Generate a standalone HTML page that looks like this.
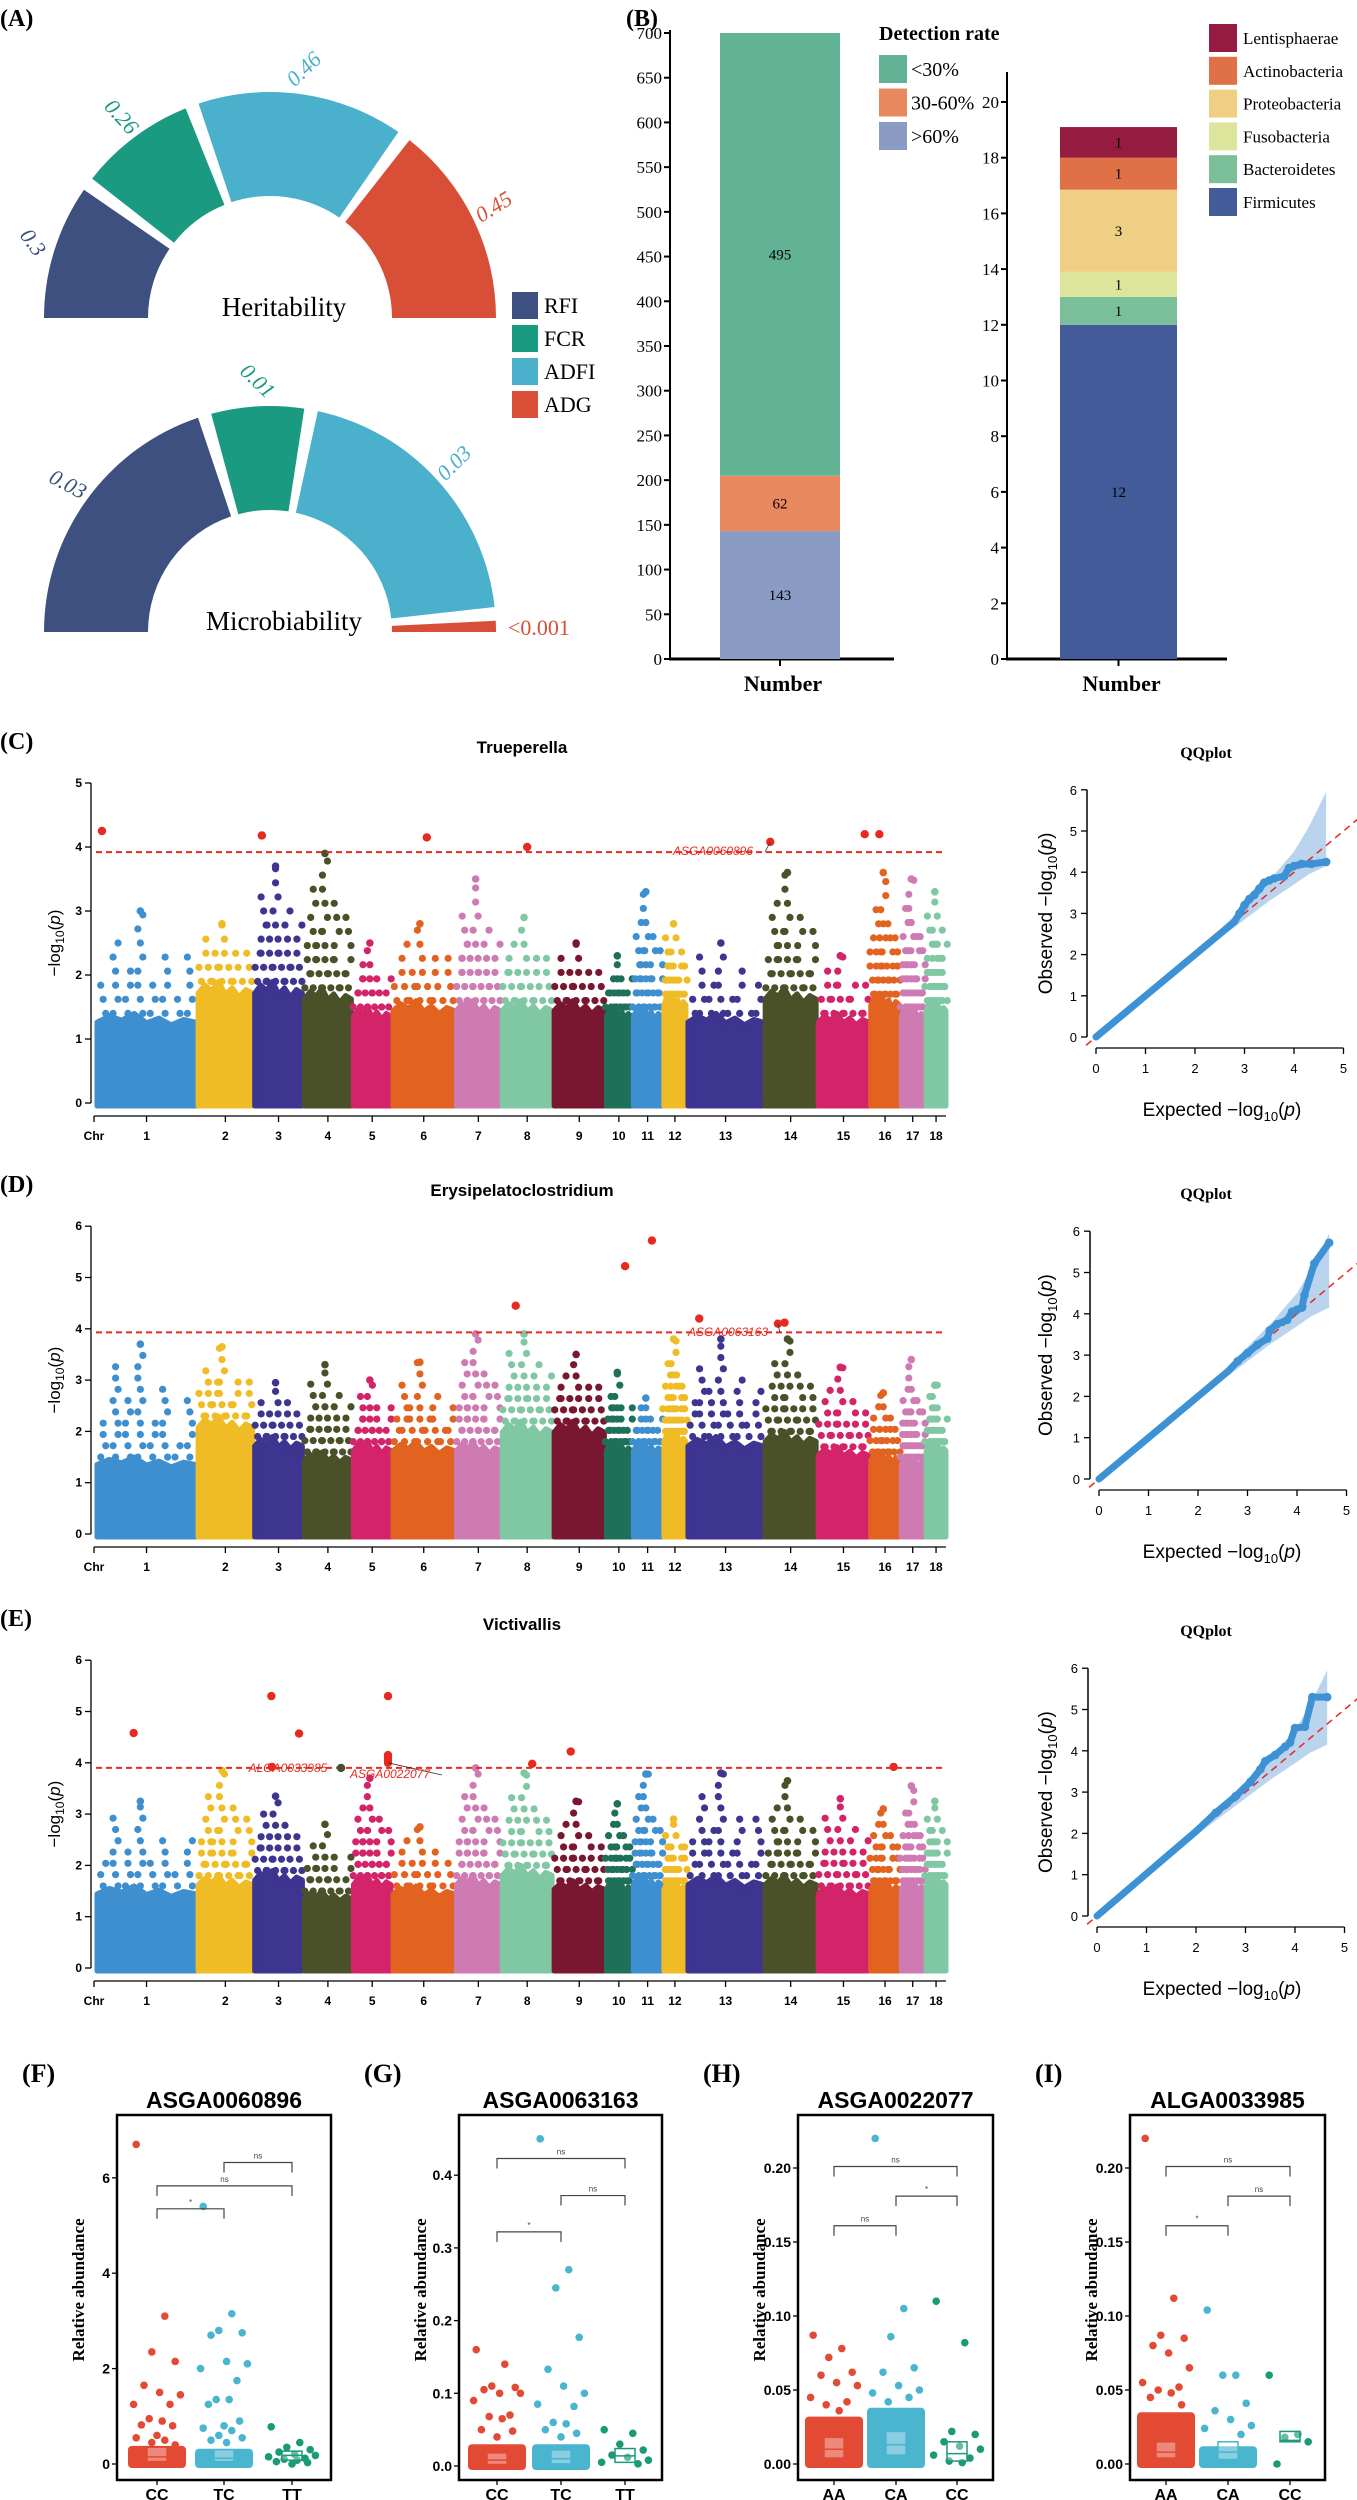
<!DOCTYPE html>
<html><head><meta charset="utf-8"><style>
html,body{margin:0;padding:0;background:#fff}
svg{display:block}
text{font-family:"Liberation Serif",serif}
.sans{font-family:"Liberation Sans",sans-serif}
</style></head><body>
<svg id="fig" xmlns="http://www.w3.org/2000/svg" width="1357" height="2500" viewBox="0 0 1357 2500"></svg>
<script>
// ---------- DATA ----------
// Panel A
const traits = ["RFI","FCR","ADFI","ADG"];
const heritability = [0.3,0.26,0.46,0.45];
const heritLabels = ["0.3","0.26","0.46","0.45"];
const microbiability = [0.03,0.01,0.03,0.0012];
const microLabels = ["0.03","0.01","0.03","<0.001"];
// Panel B
const detectCats = [">60%","30-60%","<30%"];
const detectVals = [143,62,495];
const detectTicks = [0,50,100,150,200,250,300,350,400,450,500,550,600,650,700];
const phyla = ["Firmicutes","Bacteroidetes","Fusobacteria","Proteobacteria","Actinobacteria","Lentisphaerae"];
const phylaVals = [12,1,0.9,2.95,1.15,1.1];
const phylaLabels = ["12","1","1","3","1","1"];
const phylaTicks = [0,2,4,6,8,10,12,14,16,18,20];
// Manhattan
const chrNames = ["1","2","3","4","5","6","7","8","9","10","11","12","13","14","15","16","17","18"];
const chrLen = [274,151,132,130,104,170,121,138,139,69,79,61,208,141,140,79,63,55];
const cDense = [1.4,1.9,1.9,1.8,1.5,1.6,1.6,1.6,1.6,1.5,1.5,1.7,1.4,1.8,1.4,1.7,1.5,1.6];
const cMax = [3.0,2.8,3.7,3.9,2.5,2.8,3.5,2.9,2.5,2.3,3.3,2.8,2.5,3.6,2.3,3.6,3.5,3.3];
const cHitChr = [1,3,6,8,14,15,16];
const cHitPos = [0.05,0.15,0.55,0.5,0.1,0.92,0.3];
const cHitVal = [4.25,4.18,4.15,4.0,4.08,4.2,4.2];
const dDense = [1.5,2.3,1.9,1.6,1.8,1.8,1.8,2.2,2.2,1.8,1.8,2.0,1.9,2.0,1.7,1.6,1.5,1.8];
const dMax = [3.7,3.65,2.95,3.3,3.0,3.35,3.9,3.9,3.5,3.15,2.65,3.8,3.8,3.8,3.25,2.75,3.4,2.9];
const dHitChr = [8,10,11,13,14,14];
const dHitPos = [0.27,0.75,0.65,0.15,0.25,0.38];
const dHitVal = [4.45,5.22,5.72,4.2,4.1,4.12];
const eDense = [1.6,1.8,1.9,1.5,1.8,1.6,1.8,2.0,1.7,1.7,1.8,1.7,1.8,1.8,1.6,1.7,1.7,1.8];
const eMax = [3.25,3.85,3.35,2.8,3.7,2.75,3.9,3.8,3.25,3.2,3.78,2.9,3.8,3.65,3.3,3.1,3.55,3.25];
const eHitChr = [1,3,3,3,4,5,5,5,5,5,8,9,16];
const eHitPos = [0.37,0.35,0.93,0.36,0.78,0.92,0.92,0.92,0.92,0.92,0.6,0.33,0.8];
const eHitVal = [4.58,5.3,4.57,3.92,3.9,5.3,4.15,4.1,4.05,4.0,3.98,4.22,3.92];
const threshold = [3.92,3.93,3.9];
// QQ
const qqCExp = [0,2.8,2.9,3.0,3.1,3.2,3.3,3.4,3.5,3.6,3.8,3.9,4.0,4.15,4.35,4.65];
const qqCObs = [0,2.8,3.0,3.2,3.35,3.45,3.6,3.75,3.8,3.85,3.9,4.1,4.15,4.2,4.2,4.25];
const qqDExp = [0,2.6,2.8,3.0,3.2,3.4,3.45,3.6,3.8,3.9,4.0,4.1,4.15,4.35,4.65];
const qqDObs = [0,2.6,2.85,3.05,3.25,3.4,3.6,3.75,3.85,4.05,4.1,4.15,4.45,5.22,5.72];
const qqEExp = [0,2.0,2.4,2.8,3.1,3.3,3.4,3.6,3.8,3.9,4.0,4.2,4.35,4.65];
const qqEObs = [0,2.05,2.5,2.9,3.25,3.55,3.75,3.9,4.1,4.2,4.55,4.58,5.3,5.3];
const bandX = [2,2.5,3,3.5,4,4.3,4.65];
const bandHi = [2.05,2.6,3.2,3.8,4.5,5.1,5.95];
const bandLo = [1.95,2.4,2.85,3.3,3.7,3.95,4.15];
// Box plots
const fGroups = ["CC","TC","TT"];
const fCC = [6.7,3.1,2.35,2.15,1.65,1.5,1.45,1.25,1.25,0.95,0.9,0.82,0.8,0.6,0.55,0.5,0.45,0.4];
const fTC = [5.4,3.15,2.8,2.75,2.7,2.15,2.1,2.0,1.75,1.35,1.35,1.25,0.9,0.8,0.75,0.7,0.6,0.55,0.5,0.45];
const fTT = [0.78,0.45,0.35,0.3,0.25,0.2,0.18,0.15,0.12,0.1,0.08,0.05,0.03,0.0];
const fBox = [[0.05,0.15,0.35],[0.05,0.12,0.3],[0.08,0.18,0.27]];
const fCloud = [0.38,0.32,0];
const gGroups = ["CC","TC","TT"];
const gCC = [0.16,0.14,0.11,0.108,0.105,0.1,0.1,0.09,0.07,0.068,0.065,0.05,0.048,0.04];
const gTC = [0.45,0.27,0.245,0.177,0.133,0.11,0.1,0.085,0.082,0.06,0.058,0.05,0.045,0.04];
const gTT = [0.05,0.045,0.03,0.022,0.015,0.012,0.008,0.005,0.003];
const gBox = [[0.002,0.008,0.018],[0.003,0.01,0.022],[0.005,0.014,0.024]];
const gCloud = [0.03,0.03,0];
const hGroups = ["AA","CA","CC"];
const hAA = [0.087,0.078,0.072,0.062,0.06,0.055,0.053,0.045,0.042,0.04,0.036];
const hCA = [0.22,0.105,0.086,0.065,0.062,0.053,0.05,0.048,0.045,0.042];
const hCC = [0.11,0.082,0.022,0.02,0.015,0.012,0.01,0.006,0.004,0.002,0.001];
const hBox = [[0.004,0.01,0.018],[0.006,0.013,0.022],[0.002,0.007,0.015]];
const hCloud = [0.032,0.038,0];
const iGroups = ["AA","CA","CC"];
const iAA = [0.22,0.112,0.087,0.085,0.08,0.075,0.065,0.055,0.052,0.05,0.048,0.045,0.04];
const iCA = [0.104,0.06,0.06,0.041,0.036,0.03,0.026,0.024,0.02];
const iCC = [0.06,0.02,0.018,0.015,0.0];
const iBox = [[0.004,0.008,0.015],[0.003,0.008,0.015],[0.015,0.016,0.022]];
const iCloud = [0.035,0.012,0];
const fBrk = [[0,1,5.35,"*"],[0,2,5.83,"ns"],[1,2,6.32,"ns"]];
const gBrk = [[0,1,0.322,"*"],[1,2,0.372,"ns"],[0,2,0.423,"ns"]];
const hBrk = [[0,1,0.161,"ns"],[1,2,0.181,"*"],[0,2,0.201,"ns"]];
const iBrk = [[0,1,0.161,"*"],[1,2,0.181,"ns"],[0,2,0.201,"ns"]];

// ---------- HELPERS ----------
const svg = document.getElementById('fig');
const NS = "http://www.w3.org/2000/svg";
function el(tag, attrs, parent){
  const e = document.createElementNS(NS, tag);
  for (const k in attrs) e.setAttribute(k, attrs[k]);
  (parent||svg).appendChild(e);
  return e;
}
function txt(str, attrs, parent){
  const t = el('text', attrs, parent);
  t.textContent = str;
  return t;
}
function grp(name, parent){
  const g = el('g', {}, parent);
  
  
  return g;
}

// ---------- PANEL A ----------
const traitColors = ["#3d5080","#1a9a80","#4bb0cb","#d94e37"];
function gauge(name, vals, labels, cy, labelRot, title){
  const g = grp(name);
  const cx = 270, r0 = 122, r1 = 226, gap = 3.5;
  const tot = vals.reduce((a,b)=>a+b,0);
  const span = 180 - gap*(vals.length-1);
  let a = 180;
  vals.forEach((v,i)=>{
    const a0 = a, a1 = a - span*v/tot;
    const rad = d=>d*Math.PI/180;
    const P = (r,d)=>[cx + r*Math.cos(rad(d)), cy - r*Math.sin(rad(d))];
    const [x0,y0]=P(r1,a0),[x1,y1]=P(r1,a1),[x2,y2]=P(r0,a1),[x3,y3]=P(r0,a0);
    const p = el('path',{d:`M${x0},${y0}A${r1},${r1} 0 0 1 ${x1},${y1}L${x2},${y2}A${r0},${r0} 0 0 0 ${x3},${y3}Z`, fill:traitColors[i]}, g);
    
    
    const mid = (a0+a1)/2;
    let lx, ly, t;
    if (labels[i].startsWith('<')) {
      lx = cx + r1 + 12; ly = cy + 3;
      t = txt(labels[i], {x:lx, y:ly, 'font-size':22, fill:traitColors[i]}, g);
    } else {
      [lx, ly] = P(r1+24, mid);
      t = txt(labels[i], {x:lx, y:ly, 'font-size':22, 'font-style':'italic', fill:traitColors[i], 'text-anchor':'middle', 'dominant-baseline':'middle', transform:`rotate(${labelRot[i]} ${lx} ${ly})`}, g);
    }
    
    
    a = a1 - gap;
  });
  const tt = txt(title, {x:284, y:cy-2, 'font-size':27, 'text-anchor':'middle'}, g);
  
  
}
const pa = txt("(A)", {x:0, y:26, 'font-size':24, 'font-weight':'bold'});
 
gauge('heritability-gauge', heritability, heritLabels, 318, [54,48,-44,-32], 'Heritability');
gauge('microbiability-gauge', microbiability, microLabels, 632, [28,44,-45,0], 'Microbiability');
{
  const g = grp('trait-legend');
  traits.forEach((t,i)=>{
    const y = 292 + i*33;
    const r = el('rect',{x:512,y:y,width:26,height:27,fill:traitColors[i]},g);
     
    const l = txt(t,{x:544,y:y+21,'font-size':22},g);
     
  });
}

// ---------- PANEL B ----------
const pb = txt("(B)", {x:626, y:26, 'font-size':24, 'font-weight':'bold'});
 
function stackBar(name, vals, labels, colors, ticks, y0, pxPer, axisX, axisTop, barX, barW, axisEnd){
  const g = grp(name);
  const Y = v => y0 - v*pxPer;
  el('line',{x1:axisX,y1:axisTop,x2:axisX,y2:y0+1,stroke:'#000','stroke-width':2},g);
  el('line',{x1:axisX-1,y1:y0,x2:axisEnd,y2:y0,stroke:'#000','stroke-width':3},g);
  ticks.forEach(t=>{
    el('line',{x1:axisX-6,y1:Y(t),x2:axisX,y2:Y(t),stroke:'#000','stroke-width':2},g);
    const tl = txt(String(t),{x:axisX-8,y:Y(t)+6,'font-size':17,'text-anchor':'end'},g);
     
  });
  let cum = 0;
  vals.forEach((v,i)=>{
    const r = el('rect',{x:barX,y:Y(cum+v),width:barW,height:v*pxPer,fill:colors[i]},g);
     
    const l = txt(labels[i],{x:barX+barW/2,y:Y(cum+v/2)+5,'font-size':15,'text-anchor':'middle'},g);
     
    cum += v;
  });
  const cx = barX+barW/2;
  el('line',{x1:cx,y1:y0,x2:cx,y2:y0+7,stroke:'#000','stroke-width':2},g);
  const xl = txt('Number',{x:cx+3,y:y0+32,'font-size':22,'font-weight':'bold','text-anchor':'middle'},g);
   
}
const detColors = ["#8a9bc4","#e8885f","#62b396"];
stackBar('detection-rate-bar', detectVals, detectVals.map(String), detColors, detectTicks, 659, 0.8943, 670, 30, 720, 120, 894);
const phyColors = ["#445b9a","#7bbf98","#dde59c","#efcf84","#e07045","#951b40"];
stackBar('phylum-bar', phylaVals, phylaLabels, phyColors, phylaTicks, 659, 27.85, 1007, 72, 1060, 117, 1227);
{
  const g = grp('detection-legend');
  const t = txt('Detection rate',{x:879,y:40,'font-size':20,'font-weight':'bold'},g);
   
  const order = ["<30%","30-60%",">60%"], cols = ["#62b396","#e8885f","#8a9bc4"];
  order.forEach((o,i)=>{
    const y = 55 + i*33.5;
    const r = el('rect',{x:879,y:y,width:28,height:28,fill:cols[i]},g);
     
    const l = txt(o,{x:911,y:y+21,'font-size':20},g);
     
  });
}
{
  const g = grp('phylum-legend');
  for (let i=phyla.length-1, k=0; i>=0; i--, k++){
    const y = 24 + k*32.8;
    const r = el('rect',{x:1209,y:y,width:28,height:28,fill:phyColors[i]},g);
     
    const l = txt(phyla[i],{x:1243,y:y+20,'font-size':17},g);
     
  }
}

// ---------- MANHATTAN ----------
const chrColors = ["#3e8fd0","#f0bc25","#3d3590","#4a5128","#d3246a","#e2631f","#cf7bb3","#80c8a3","#7a1730","#1e7058","#3e8fd0","#f0bc25","#3d3590","#4a5128","#d3246a","#e2631f","#cf7bb3","#80c8a3"];
const totalLen = chrLen.reduce((a,b)=>a+b,0);
const chrStarts = []; {let c=0; chrLen.forEach(l=>{chrStarts.push(c); c+=l;});}
const MX0 = 97, MX1 = 946, gapPx = 2;
const mxScale = (MX1 - MX0 - gapPx*17) / totalLen;
function MX(ci, frac){ return MX0 + ci*gapPx + (chrStarts[ci] + frac*chrLen[ci])*mxScale; }
const jag = [0.35,0.8,0.5,1.0,0.3,0.65,0.15,0.55];
function manhattan(name, letter, title, y0, pxPer, maxTick, dense, mx, hitChr, hitPos, hitVal, thr, annots){
  const g = grp(name);
  const Y = v => y0 - v*pxPer;
  const pl = txt('('+letter+')',{x:0,y:y0-pxPer*maxTick-34,'font-size':24,'font-weight':'bold'},g);
   
  const tt = txt(title,{x:522,y:y0-pxPer*maxTick-30,'font-size':17,'font-weight':'bold','text-anchor':'middle',class:'sans'},g);
   
  el('line',{x1:91,y1:Y(maxTick),x2:91,y2:y0,stroke:'#000','stroke-width':1.3},g);
  for(let t=0;t<=maxTick;t++){
    el('line',{x1:85,y1:Y(t),x2:91,y2:Y(t),stroke:'#000','stroke-width':1.3},g);
    const l = txt(String(t),{x:82,y:Y(t)+4,'font-size':12,'font-weight':'bold','text-anchor':'end',class:'sans'},g);
     
  }
  const ym = Y(maxTick/2);
  const yl = txt('',{x:60,y:ym,'font-size':17,'text-anchor':'middle',class:'sans',transform:`rotate(-90 60 ${ym})`},g);
  yl.innerHTML = '−log<tspan font-size="12" dy="4">10</tspan><tspan dy="-4">(</tspan><tspan font-style="italic">p</tspan>)';
   
  chrLen.forEach((L,ci)=>{
    const x0 = MX(ci,0), x1 = MX(ci,1), col = chrColors[ci];
    const cg = grp('chromosome-'+chrNames[ci], g);
    let pts = `${x0},${y0+3} `;
    const n = jag.length;
    for(let k=0;k<=n;k++){
      const fx = x0 + (x1-x0)*k/n;
      const v = dense[ci]*(0.85 + 0.15*jag[k%n]);
      pts += `${fx},${Y(v)} `;
    }
    pts += `${x1},${y0+3}`;
    el('polygon',{points:pts,fill:col,stroke:col,'stroke-width':5,'stroke-linejoin':'round'},cg);
    for(let k=0;k<n;k++){
      const fx = x0 + (x1-x0)*(k+0.5)/n;
      const top = dense[ci] + (mx[ci]-dense[ci])*jag[k];
      for(let v=dense[ci]; v<=top+1e-6; v+=0.22){
        el('circle',{cx:fx + ((k+Math.round(v*10))%3-1)*2.5, cy:Y(v), r:3.6, fill:col},cg);
      }
      if (jag[k]===1.0) el('circle',{cx:fx,cy:Y(mx[ci]),r:3.8,fill:col},cg);
    }
  });
  const th = el('line',{x1:96,y1:Y(thr),x2:944,y2:Y(thr),stroke:'#e8291f','stroke-width':2,'stroke-dasharray':'6,4'},g);
   
  hitChr.forEach((c,i)=>{
    const sig = hitVal[i] > thr;
    const p = el('circle',{cx:MX(c-1,hitPos[i]),cy:Y(hitVal[i]),r:4.2,fill:sig?'#e8291f':chrColors[c-1]},g);
     
  });
  annots.forEach(a=>{
    const [lab, ci, fr, v, lx, ly] = a;
    el('line',{x1:lx+52,y1:ly-3,x2:MX(ci-1,fr),y2:Y(v),stroke:'#333','stroke-width':0.8},g);
    const t = txt(lab,{x:lx,y:ly,'font-size':12,'font-style':'italic',fill:'#e8291f','text-anchor':'middle',class:'sans'},g);
     
  });
  const ay = y0 + 13;
  el('line',{x1:94,y1:ay,x2:946,y2:ay,stroke:'#000','stroke-width':1.3},g);
  el('line',{x1:94,y1:ay,x2:94,y2:ay+6,stroke:'#000','stroke-width':1.3},g);
  const cl = txt('Chr',{x:94,y:ay+24,'font-size':12,'font-weight':'bold','text-anchor':'middle',class:'sans'},g);
   
  chrNames.forEach((nm,ci)=>{
    const x = MX(ci,0.5);
    el('line',{x1:x,y1:ay,x2:x,y2:ay+6,stroke:'#000','stroke-width':1.3},g);
    const l = txt(nm,{x:x,y:ay+24,'font-size':12,'font-weight':'bold','text-anchor':'middle',class:'sans'},g);
     
  });
}
manhattan('manhattan-trueperella','C','Trueperella',1103,64,5,cDense,cMax,cHitChr,cHitPos,cHitVal,threshold[0],[["ASGA0060896",14,0.1,4.08,713,855]]);
manhattan('manhattan-erysipelatoclostridium','D','Erysipelatoclostridium',1534,51.3,6,dDense,dMax,dHitChr,dHitPos,dHitVal,threshold[1],[["ASGA0063163",14,0.25,4.1,728,1336]]);
manhattan('manhattan-victivallis','E','Victivallis',1968,51.3,6,eDense,eMax,eHitChr,eHitPos,eHitVal,threshold[2],[["ALGA0033985",4,0.78,3.9,288,1772],["ASGA0022077",5,0.92,4.0,390,1778]]);

// ---------- QQ ----------
function qq(name, y0, pxPer, x0, exp, obs){
  const g = grp(name);
  const X = v => x0 + v*49.5, Y = v => y0 - v*pxPer;
  const t = txt('QQplot',{x:1206,y:Y(6)-32,'font-size':16,'font-weight':'bold','text-anchor':'middle'},g);
   
  const ax = x0 - 9;
  el('line',{x1:ax,y1:Y(6),x2:ax,y2:y0,stroke:'#000','stroke-width':1.5},g);
  for(let k=0;k<=6;k++){
    el('line',{x1:ax-6,y1:Y(k),x2:ax,y2:Y(k),stroke:'#000','stroke-width':1.3},g);
    const l = txt(String(k),{x:ax-10,y:Y(k)+5,'font-size':13,'text-anchor':'end',class:'sans'},g);
     
  }
  const by = y0 + 11;
  el('line',{x1:X(0),y1:by,x2:X(5),y2:by,stroke:'#000','stroke-width':1.3},g);
  for(let k=0;k<=5;k++){
    el('line',{x1:X(k),y1:by,x2:X(k),y2:by+6,stroke:'#000','stroke-width':1.3},g);
    const l = txt(String(k),{x:X(k),y:by+25,'font-size':13,'text-anchor':'middle',class:'sans'},g);
     
  }
  const xl = txt('',{x:1222,y:by+68,'font-size':19,'text-anchor':'middle',class:'sans'},g);
  xl.innerHTML = 'Expected  −log<tspan font-size="13" dy="5">10</tspan><tspan dy="-5">(</tspan><tspan font-style="italic">p</tspan>)';
   
  const ym = Y(3);
  const yl = txt('',{x:1052,y:ym,'font-size':19,'text-anchor':'middle',class:'sans',transform:`rotate(-90 1052 ${ym})`},g);
  yl.innerHTML = 'Observed  −log<tspan font-size="13" dy="5">10</tspan><tspan dy="-5">(</tspan><tspan font-style="italic">p</tspan>)';
   
  let bp = bandX.map((v,i)=>`${X(v)},${Y(bandHi[i])}`).join(' ') + ' ' + bandX.slice().reverse().map((v,i)=>`${X(v)},${Y(bandLo[bandLo.length-1-i])}`).join(' ');
  const band = el('polygon',{points:bp,fill:'#a9c9e8',opacity:0.8},g);
   
  const line = el('line',{x1:X(-0.2),y1:Y(-0.2),x2:X(5.3),y2:Y(5.3),stroke:'#e8291f','stroke-width':1.5,'stroke-dasharray':'7,5'},g);
   
  const pl = el('polyline',{points:exp.map((v,i)=>`${X(v)},${Y(obs[i])}`).join(' '),fill:'none',stroke:'#3d92d6','stroke-width':7,'stroke-linecap':'round'},g);
   
  exp.forEach((v,i)=>{
    if (i<2) return;
    const c = el('circle',{cx:X(v),cy:Y(obs[i]),r:4.3,fill:'#3d92d6'},g);
     
  });
}
qq('qqplot-trueperella',1037,41.2,1096,qqCExp,qqCObs);
qq('qqplot-erysipelatoclostridium',1479,41.3,1099,qqDExp,qqDObs);
qq('qqplot-victivallis',1916,41.3,1097,qqEExp,qqEObs);

// ---------- BOX PLOTS ----------
const grpColors = ["#e24a33","#4ab5cf","#1a9a76"];
const jit = [-0.8,0.3,-0.2,0.7,-0.5,0.1,0.9,-0.9,0.5,-0.3,0.2,-0.6,0.6,0];
function boxplot(name, letter, title, bx0, bx1, xs, y0, pxPer, ticks, tickFmt, groups, series, boxes, clouds, brks){
  const g = grp(name);
  const Y = v => y0 - v*pxPer;
  const top = 2115, bot = 2480;
  const pl = txt('('+letter+')',{x:bx0-95,y:2082,'font-size':26,'font-weight':'bold'},g);
   
  const t = txt(title,{x:(bx0+bx1)/2,y:2108,'font-size':23,'font-weight':'bold','text-anchor':'middle',class:'sans'},g);
   
  const yl = txt('Relative abundance',{x:bx0-33,y:2290,'font-size':17,'font-weight':'bold','text-anchor':'middle',transform:`rotate(-90 ${bx0-33} 2290)`},g);
   
  ticks.forEach(tk=>{
    el('line',{x1:bx0-5,y1:Y(tk),x2:bx0,y2:Y(tk),stroke:'#000','stroke-width':1.3},g);
    const l = txt(tk.toFixed(tickFmt),{x:bx0-7,y:Y(tk)+5,'font-size':14,'font-weight':'bold','text-anchor':'end',class:'sans'},g);
     
  });
  groups.forEach((gn,i)=>{
    const x = xs[i], col = grpColors[i];
    const gg = grp('group-'+gn.toLowerCase(), g);
    if (clouds[i]>0){
      el('rect',{x:x-29,y:Y(clouds[i]),width:58,height:clouds[i]*pxPer+4,rx:4,fill:col},gg);
    }
    series[i].forEach((v,k)=>{
      const c = el('circle',{cx:x+jit[k%jit.length]*26,cy:Y(v),r:3.8,fill:col},gg);
       
    });
    const [q1,md,q3] = boxes[i];
    const b = el('rect',{x:x-10,y:Y(q3),width:20,height:Math.max(1,(q3-q1)*pxPer),fill:'rgba(255,255,255,0.35)',stroke:col,'stroke-width':1.5},gg);
     
    el('line',{x1:x-10,y1:Y(md),x2:x+10,y2:Y(md),stroke:col,'stroke-width':1.5},gg);
    el('line',{x1:x,y1:bot,x2:x,y2:bot+5,stroke:'#000','stroke-width':1.3},g);
    const xl = txt(gn,{x:x,y:bot+20,'font-size':16,'font-weight':'bold','text-anchor':'middle',class:'sans'},g);
     
  });
  brks.forEach(bk=>{
    const [a,b2,v,lab] = bk;
    const y = Y(v), xa = xs[a], xb = xs[b2];
    const br = el('path',{d:`M${xa},${y+10}V${y}H${xb}V${y+10}`,fill:'none',stroke:'#444','stroke-width':1.2},g);
     
    const l = txt(lab,{x:(xa+xb)/2,y:y-4,'font-size':8,'text-anchor':'middle',fill:'#444',class:'sans'},g);
     
  });
  const fr = el('rect',{x:bx0,y:top,width:bx1-bx0,height:bot-top,fill:'none',stroke:'#000','stroke-width':2.5},g);
   
}
boxplot('boxplot-asga0060896','F','ASGA0060896',117,331,[157,224,292],2464,47.7,[0,2,4,6],0,fGroups,[fCC,fTC,fTT],fBox,fCloud,fBrk);
boxplot('boxplot-asga0063163','G','ASGA0063163',459,662,[497,561,625],2466,727,[0,0.1,0.2,0.3,0.4],1,gGroups,[gCC,gTC,gTT],gBox,gCloud,gBrk);
boxplot('boxplot-asga0022077','H','ASGA0022077',798,993,[834,896,957],2464,1480,[0,0.05,0.1,0.15,0.2],2,hGroups,[hAA,hCA,hCC],hBox,hCloud,hBrk);
boxplot('boxplot-alga0033985','I','ALGA0033985',1130,1325,[1166,1228,1290],2464,1480,[0,0.05,0.1,0.15,0.2],2,iGroups,[iAA,iCA,iCC],iBox,iCloud,iBrk);
</script>
</body></html>
